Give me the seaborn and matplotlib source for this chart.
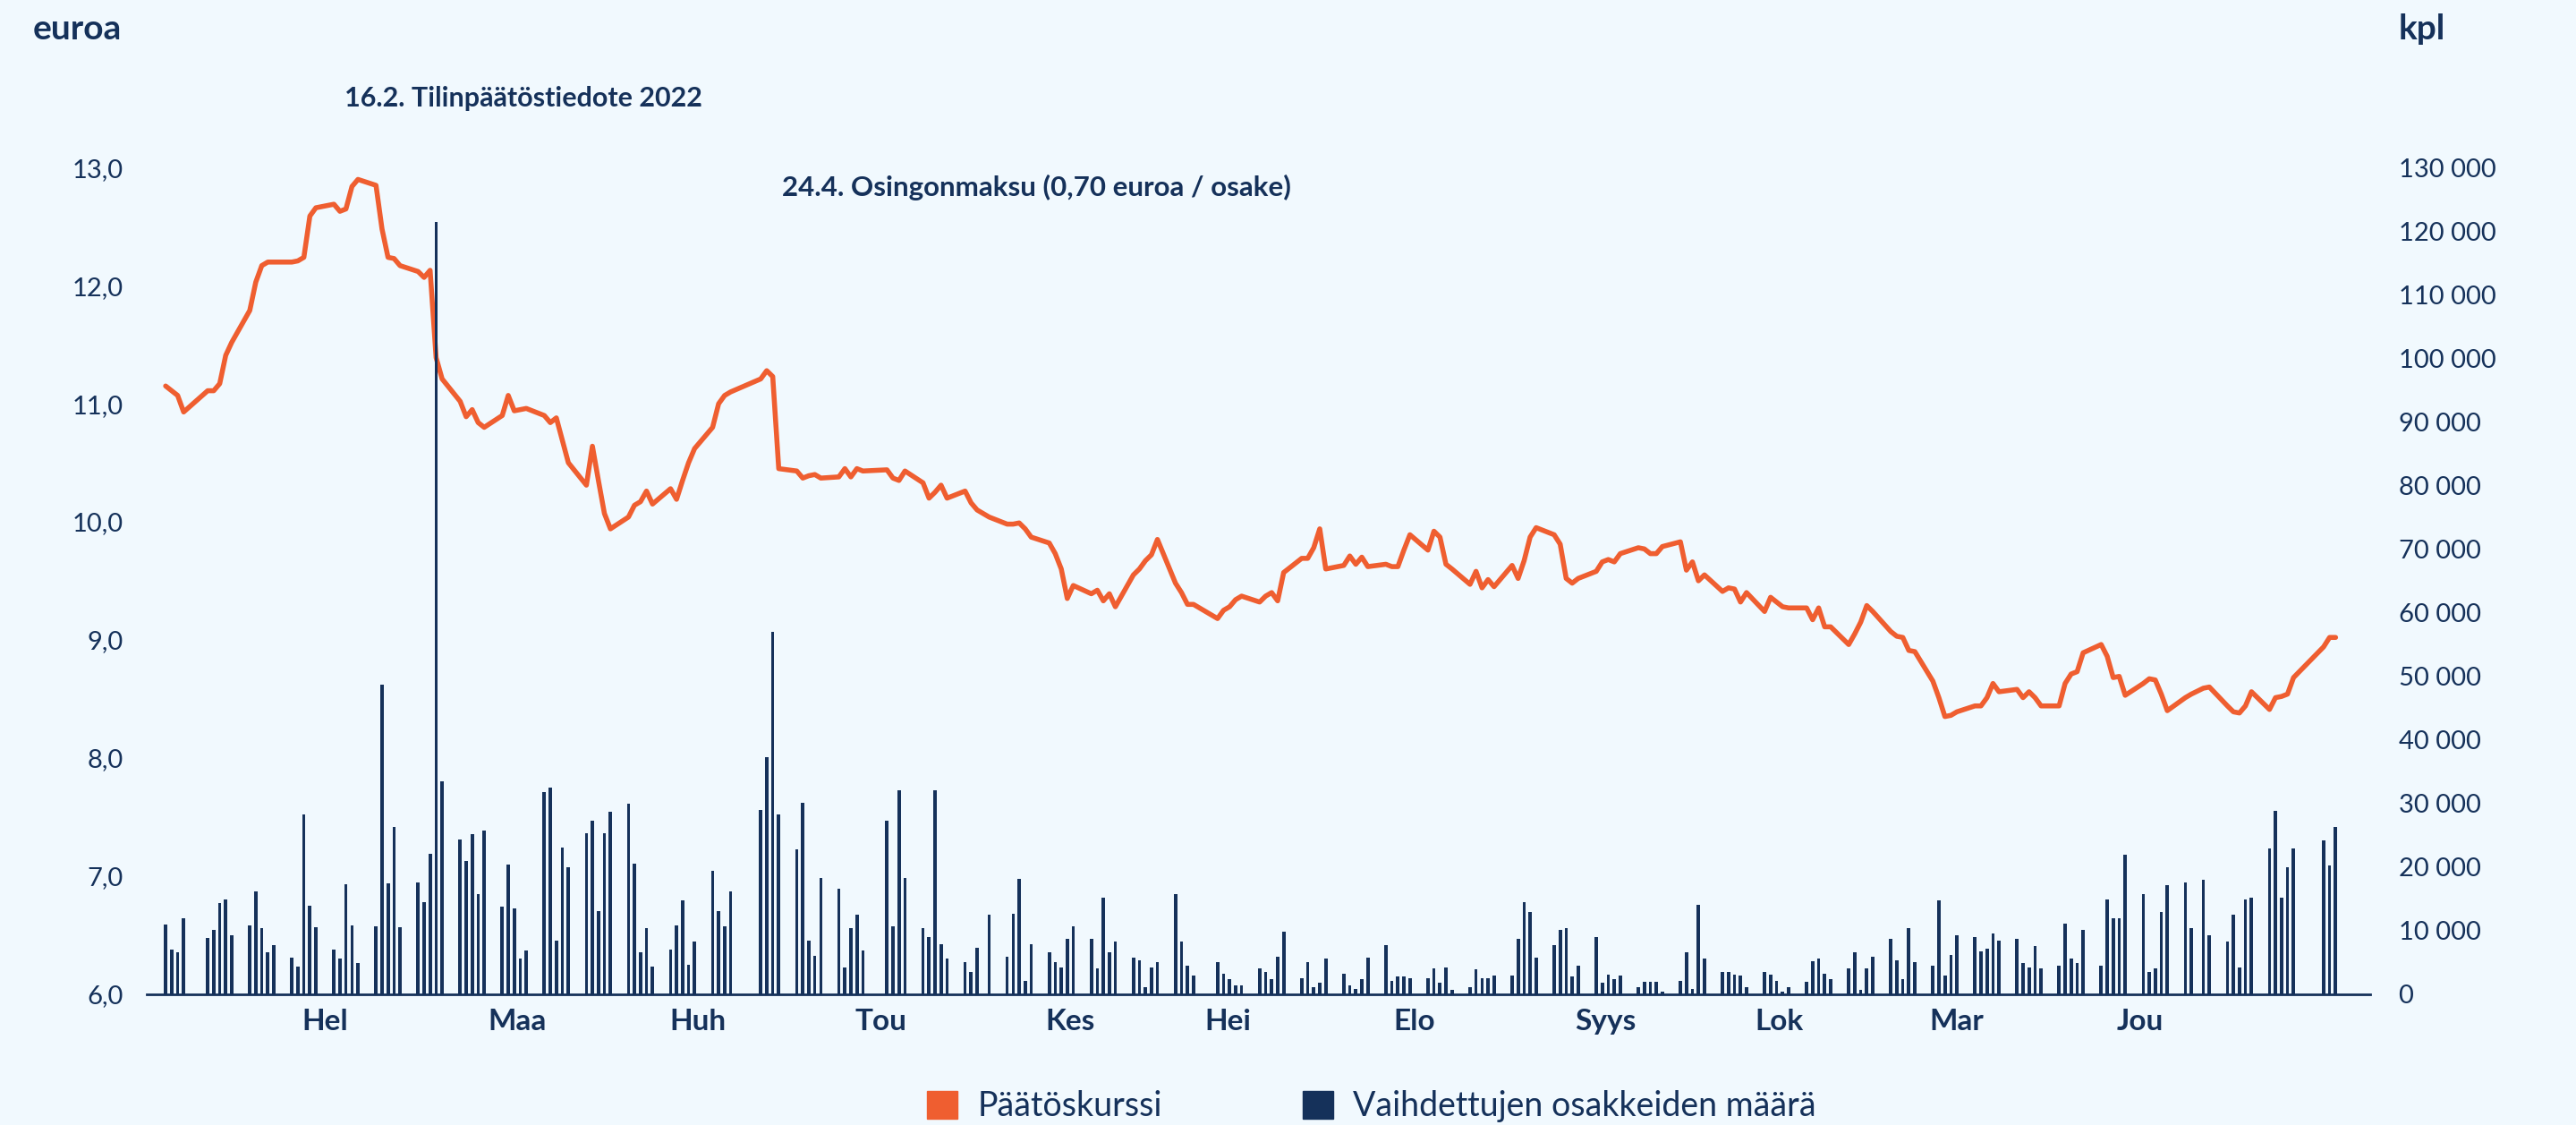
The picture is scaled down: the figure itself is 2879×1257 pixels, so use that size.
import pandas as pd
import matplotlib
matplotlib.use("Agg")
import matplotlib.pyplot as plt
from matplotlib.patches import Patch
import seaborn as sns

# Päätöskurssi (euroa), kaupankäyntipäivät 2023 kuukausittain
hinta_tam = [11.15, 11.11, 11.07, 10.93, 11.11, 11.11, 11.17, 11.41, 11.52, 11.79, 12.03,
             12.17, 12.20, 12.20, 12.20, 12.21, 12.24, 12.59, 12.66, 12.69, 12.63]
hinta_hel = [12.65, 12.84, 12.90, 12.85, 12.48, 12.24, 12.23, 12.17, 12.12, 12.07,
             12.13, 11.39, 11.21, 11.02, 10.89, 10.95, 10.84, 10.80, 10.90, 11.07]
hinta_maa = [10.94, 10.95, 10.96, 10.90, 10.84, 10.88, 10.69, 10.50, 10.31, 10.64, 10.35, 10.07,
             9.94, 10.04, 10.14, 10.17, 10.26, 10.15, 10.28, 10.19, 10.35, 10.50, 10.62]
hinta_huh = [10.80, 11.00, 11.07, 11.10, 11.21, 11.28, 11.23, 10.45, 10.43, 10.37, 10.39,
             10.40, 10.37, 10.38, 10.45, 10.38, 10.45, 10.43]
hinta_tou = [10.44, 10.37, 10.35, 10.43, 10.33, 10.20, 10.25, 10.31, 10.20, 10.26, 10.16,
             10.10, 10.04, 9.98, 9.98, 9.99, 9.94, 9.87, 9.82, 9.73, 9.60]
hinta_kes = [9.35, 9.46, 9.39, 9.42, 9.33, 9.39, 9.28, 9.55, 9.60, 9.67, 9.72, 9.85, 9.48,
             9.40, 9.30, 9.30, 9.18, 9.25, 9.28, 9.34, 9.37]
hinta_hei = [9.32, 9.37, 9.40, 9.33, 9.57, 9.69, 9.69, 9.78, 9.94, 9.60, 9.63, 9.71, 9.64,
             9.70, 9.62, 9.64, 9.62, 9.62, 9.76, 9.89, 9.76]
hinta_elo = [9.92, 9.87, 9.64, 9.60, 9.47, 9.58, 9.44, 9.51, 9.45, 9.63, 9.52, 9.67, 9.87,
             9.95, 9.89, 9.81, 9.52, 9.48, 9.52, 9.58, 9.66, 9.68, 9.66]
hinta_syy = [9.73, 9.78, 9.77, 9.73, 9.73, 9.79, 9.83, 9.59, 9.66, 9.50, 9.55, 9.41, 9.44,
             9.43, 9.32, 9.40, 9.24, 9.36, 9.32, 9.28, 9.27]
hinta_lok = [9.27, 9.17, 9.27, 9.11, 9.11, 8.96, 9.05, 9.15, 9.29, 9.24, 9.07, 9.03, 9.02,
             8.91, 8.90, 8.65, 8.51, 8.35, 8.36, 8.39, 8.44, 8.44]
hinta_mar = [8.51, 8.63, 8.56, 8.58, 8.51, 8.56, 8.51, 8.44, 8.44, 8.63, 8.71, 8.73, 8.89,
             8.96, 8.86, 8.68, 8.69, 8.53, 8.63, 8.67, 8.66, 8.54]
hinta_jou = [8.40, 8.51, 8.54, 8.59, 8.60, 8.44, 8.39, 8.38, 8.44, 8.56, 8.41, 8.51, 8.52,
             8.54, 8.68, 8.94, 9.02, 9.02]

# Vaihdettujen osakkeiden määrä (kpl)
maara_tam = [10900, 7000, 6600, 11900, 8800, 10100, 14300, 14900, 9300, 10800, 16100,
             10300, 6600, 7700, 5700, 4300, 28300, 13900, 10500, 7000, 5500]
maara_hel = [17200, 10800, 4900, 10700, 48600, 17400, 26200, 10500, 17500, 14400,
             22100, 121400, 33500, 24300, 20900, 25100, 15700, 25700, 13700, 20400]
maara_maa = [13500, 5500, 6900, 31800, 32500, 8400, 23000, 19900, 25300, 27200, 13000,
             25300, 28700, 29900, 20500, 6600, 10300, 4300, 7000, 10800, 14700, 4600, 8200]
maara_huh = [19300, 13000, 10700, 16100, 29000, 37300, 57000, 28300, 22800, 30000, 8400,
             6000, 18300, 16600, 4200, 10300, 12400, 6900]
maara_tou = [27200, 10700, 32100, 18300, 10300, 9000, 32000, 7800, 5500, 5000, 3400,
             7300, 12400, 5900, 12600, 18100, 2100, 7800, 6600, 5000, 4200]
maara_kes = [8700, 10700, 8700, 4000, 15100, 6600, 8200, 5700, 5300, 1100, 4200, 5000,
             15700, 8200, 4500, 2900, 5000, 3200, 2400, 1400, 1300]
maara_hei = [4000, 3400, 2400, 5900, 9800, 2500, 5000, 1000, 1700, 5500, 3200, 1300, 800,
             2400, 5700, 7700, 2100, 2700, 2800, 2500, 2500]
maara_elo = [4000, 1700, 4200, 700, 1100, 3900, 2500, 2500, 2900, 2900, 8700, 14500,
             12900, 5700, 7700, 10100, 10400, 2800, 4500, 9000, 1700, 3100, 2400]
maara_syy = [2900, 1100, 1900, 1900, 1900, 400, 2100, 6600, 800, 14000, 5600, 3400, 3400,
             3100, 2900, 1000, 3400, 3100, 2100, 300, 1100]
maara_lok = [1900, 5200, 5500, 3200, 2300, 4000, 6600, 700, 4000, 5900, 8700, 5300, 2300,
             10300, 5000, 4500, 14700, 2900, 6100, 9300, 9000, 6700]
maara_mar = [7100, 9500, 8400, 8700, 4900, 4200, 7600, 4000, 4500, 11100, 5500, 4800,
             10100, 4400, 14900, 11900, 11900, 21900, 15700, 3500, 4000, 12900]
maara_jou = [17100, 17500, 10300, 17900, 9300, 8200, 12400, 4200, 14900, 15100, 22900,
             28800, 15100, 19900, 22900, 24200, 20200, 26200]

# Pörssin vapaapäivät 2023
pyhat = ["2023-01-06", "2023-04-07", "2023-04-10", "2023-05-01", "2023-05-18",
         "2023-06-23", "2023-12-06", "2023-12-25", "2023-12-26"]

kuukaudet = ["Hel", "Maa", "Huh", "Tou", "Kes", "Hei", "Elo", "Syys", "Lok", "Mar", "Jou"]
kk_paivat = ["2023-01-28 12:00", "2023-03-01 12:00", "2023-03-31 12:00", "2023-05-01 00:00",
             "2023-06-01 12:00", "2023-06-27 18:00", "2023-07-28 18:00", "2023-08-29 12:00",
             "2023-09-27 12:00", "2023-10-27 00:00", "2023-11-26 12:00"]

hinta_tikit = [6, 7, 8, 9, 10, 11, 12, 13]
maara_tikit = [0, 10000, 20000, 30000, 40000, 50000, 60000, 70000, 80000, 90000,
               100000, 110000, 120000, 130000]

TAUSTA = "#F1F9FE"
ORANSSI = "#EF5E30"
SININEN = "#15315A"

hinnat = (hinta_tam + hinta_hel + hinta_maa + hinta_huh + hinta_tou + hinta_kes +
          hinta_hei + hinta_elo + hinta_syy + hinta_lok + hinta_mar + hinta_jou)
maarat = (maara_tam + maara_hel + maara_maa + maara_huh + maara_tou + maara_kes +
          maara_hei + maara_elo + maara_syy + maara_lok + maara_mar + maara_jou)
paivat = pd.bdate_range("2023-01-02", "2023-12-29", freq="C", holidays=pyhat)

df = pd.DataFrame({"pvm": paivat, "hinta": hinnat, "maara": maarat})

sns.set_theme(style="white")
plt.rcParams["font.family"] = ["Lato", "DejaVu Sans"]

fig, ax = plt.subplots(figsize=(28.79, 12.57), dpi=100)
fig.patch.set_facecolor(TAUSTA)
ax.set_facecolor(TAUSTA)
fig.subplots_adjust(left=0.057, right=0.920, bottom=0.1165, top=0.851)

ax2 = ax.twinx()
sns.lineplot(data=df, x="pvm", y="hinta", ax=ax, color=ORANSSI, linewidth=4)
ax2.bar(df["pvm"], df["maara"], width=0.55, color=SININEN, linewidth=0)

ax.set_xlim(pd.Timestamp("2022-12-29 21:00"), pd.Timestamp("2024-01-03 17:00"))
ax.set_ylim(6, 13)
ax2.set_ylim(0, 130000)

ax.set_yticks(hinta_tikit)
ax.set_yticklabels([f"{v:.1f}".replace(".", ",") for v in hinta_tikit],
                   fontsize=21, color=SININEN)
ax2.set_yticks(maara_tikit)
ax2.set_yticklabels([f"{v:,}".replace(",", " ") for v in maara_tikit],
                    fontsize=21, color=SININEN)
ax.set_xticks(pd.to_datetime(kk_paivat, format="%Y-%m-%d %H:%M"))
ax.set_xticklabels(kuukaudet, fontsize=24, fontweight="bold", color=SININEN)
ax.set_xlabel("")
ax.set_ylabel("")

ax.tick_params(axis="x", length=0, pad=12)
ax.tick_params(axis="y", length=0, pad=19)
ax2.tick_params(axis="y", length=0, pad=23)

for a in (ax, ax2):
    for s in ("top", "left", "right"):
        a.spines[s].set_visible(False)
ax2.spines["bottom"].set_visible(False)
ax.spines["bottom"].set_color(SININEN)
ax.spines["bottom"].set_linewidth(2)

fig.text(37 / 2879, 1 - 33 / 1257, "euroa", ha="left", va="center",
         fontsize=28, fontweight="bold", color=SININEN)
fig.text(2681 / 2879, 1 - 33 / 1257, "kpl", ha="left", va="center",
         fontsize=28, fontweight="bold", color=SININEN)
fig.text(385 / 2879, 1 - 110 / 1257, "16.2. Tilinpäätöstiedote 2022", ha="left",
         va="center", fontsize=22, fontweight="bold", color=SININEN)
fig.text(874 / 2879, 1 - 209 / 1257, "24.4. Osingonmaksu (0,70 euroa / osake)",
         ha="left", va="center", fontsize=22.5, fontweight="bold", color=SININEN)

kahvat = [Patch(color=ORANSSI, label="Päätöskurssi"),
          Patch(color=SININEN, label="Vaihdettujen osakkeiden määrä")]
leg = fig.legend(handles=kahvat, loc="center", bbox_to_anchor=(0.5325, 0.0167), ncol=2,
                 frameon=False, fontsize=27, handlelength=0.9, handleheight=0.9,
                 handletextpad=0.6, columnspacing=4.2)
for t in leg.get_texts():
    t.set_color(SININEN)

fig.savefig("out.png", dpi=100, facecolor=TAUSTA)
